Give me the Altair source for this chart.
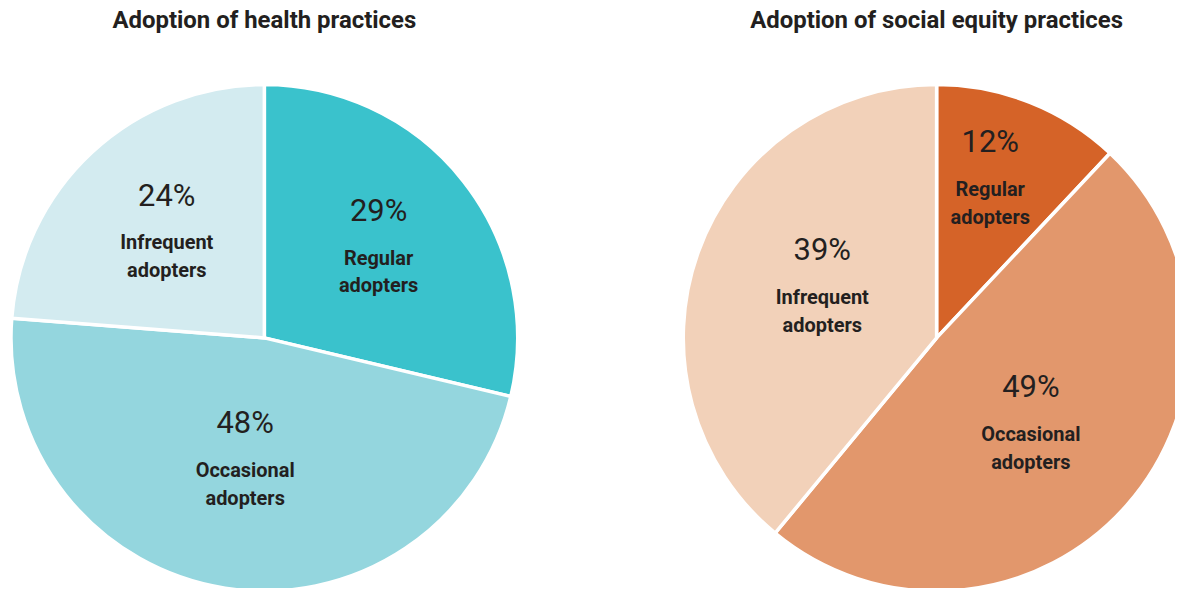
import math
import altair as alt
import pandas as pd

# ---- data ----
health_categories = ["Regular adopters", "Occasional adopters", "Infrequent adopters"]
health_values = [29, 48, 24]
equity_categories = ["Regular adopters", "Occasional adopters", "Infrequent adopters"]
equity_values = [12, 49, 39]

# ---- styles ----
health_colors = ["#3AC2CC", "#94D6DE", "#D3EBF0"]
equity_colors = ["#D56328", "#E2976C", "#F2D1B9"]
# label radius and small nudges (dx, dy) per slice
health_label_style = [(146, 0, 0), (124, 0, 0), (144, 0, 0)]
equity_label_style = [(165, -7, -6), (126, 0, 3), (125, 3, -9)]

TEXT_COLOR = "#231F20"
FONT = "Roboto"
OUTER_R = 254


def pie(title, cats, vals, colors, label_style, width):
    df = pd.DataFrame({
        "category": cats,
        "value": vals,
        "order": list(range(len(cats))),
    })
    df["pct"] = [f"{v}%" for v in vals]
    df["name"] = [c.replace(" ", "\n") for c in cats]
    total = float(sum(vals))
    theta_scale = alt.Scale(domain=[0, total], range=[0, 2 * math.pi])

    arcs = alt.Chart(df).mark_arc(
        outerRadius=OUTER_R, stroke="white", strokeWidth=3.5
    ).encode(
        theta=alt.Theta("value:Q", stack=True, scale=theta_scale),
        color=alt.Color("category:N", scale=alt.Scale(domain=cats, range=colors), legend=None),
        order=alt.Order("order:Q"),
    )

    lab = alt.Chart(df).transform_window(
        cum="sum(value)", sort=[alt.SortField("order")], frame=[None, 0]
    ).transform_calculate(mid="datum.cum - datum.value / 2")

    layers = [arcs]
    for i, (r, ndx, ndy) in enumerate(label_style):
        sub = lab.transform_filter(f"datum.order == {i}")
        layers.append(sub.mark_text(
            radius=r, dx=ndx, dy=-36 + ndy, font=FONT, fontSize=31, color=TEXT_COLOR,
            baseline="middle"
        ).encode(theta=alt.Theta("mid:Q", scale=theta_scale), text="pct:N"))
        layers.append(sub.mark_text(
            radius=r, dx=ndx, dy=11 + ndy, font=FONT, fontSize=20, fontWeight="bold",
            color=TEXT_COLOR, baseline="middle", lineBreak="\n", lineHeight=28
        ).encode(theta=alt.Theta("mid:Q", scale=theta_scale), text="name:N"))

    return alt.layer(*layers).properties(
        width=width, height=508,
        title=alt.TitleParams(
            title, font=FONT, fontSize=24, fontWeight="bold", color=TEXT_COLOR,
            anchor="middle", offset=45,
        ),
    )


left = pie("Adoption of health practices", health_categories, health_values,
           health_colors, health_label_style, 514)
right = pie("Adoption of social equity practices", equity_categories, equity_values,
            equity_colors, equity_label_style, 514)

chart = alt.hconcat(left, right, spacing=160, bounds="flush").resolve_scale(
    color="independent", theta="independent"
).properties(
    padding={"left": -4, "top": 0, "right": -22, "bottom": -11}
).configure_view(stroke=None)

chart.save("out.html", embed_options={"renderer": "svg", "actions": False})
